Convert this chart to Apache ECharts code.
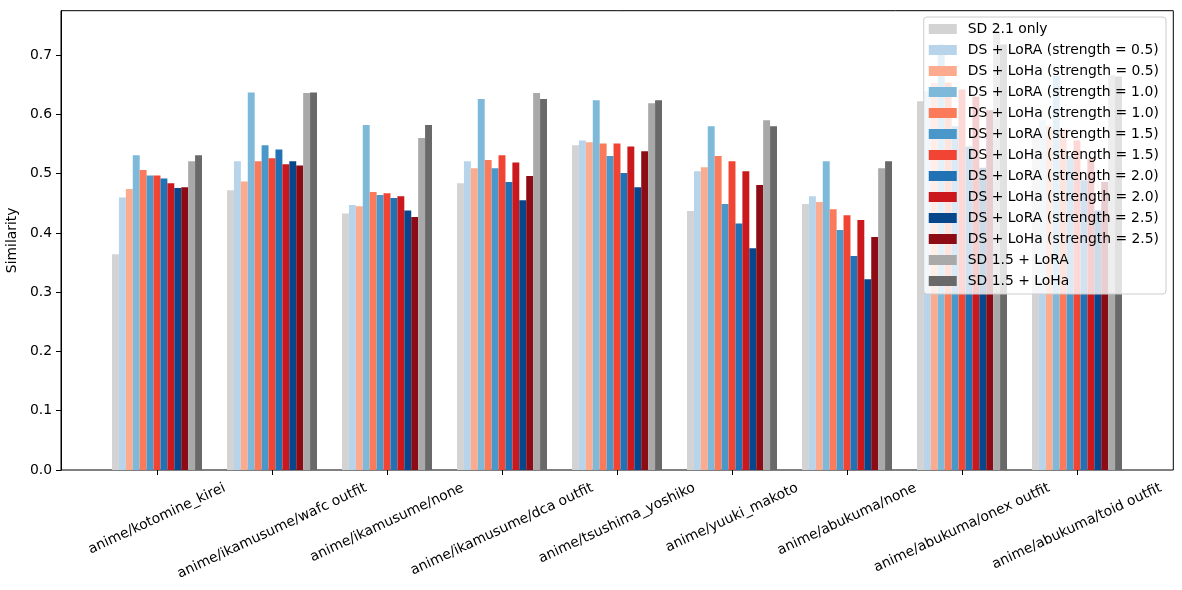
<!DOCTYPE html>
<html>
<head>
<meta charset="utf-8">
<script src="https://cdn.jsdelivr.net/npm/echarts@6/dist/echarts.min.js"></script>
<style>
html,body{margin:0;padding:0;background:#fff;}
#chart{width:1182px;height:590px;}
</style>
</head>
<body>
<div id="chart"></div>
<script>
// ---- data ----
const categories = [
  'anime/kotomine_kirei',
  'anime/ikamusume/wafc outfit',
  'anime/ikamusume/none',
  'anime/ikamusume/dca outfit',
  'anime/tsushima_yoshiko',
  'anime/yuuki_makoto',
  'anime/abukuma/none',
  'anime/abukuma/onex outfit',
  'anime/abukuma/toid outfit'
];
const seriesNames = [
  'SD 2.1 only',
  'DS + LoRA (strength = 0.5)',
  'DS + LoHa (strength = 0.5)',
  'DS + LoRA (strength = 1.0)',
  'DS + LoHa (strength = 1.0)',
  'DS + LoRA (strength = 1.5)',
  'DS + LoHa (strength = 1.5)',
  'DS + LoRA (strength = 2.0)',
  'DS + LoHa (strength = 2.0)',
  'DS + LoRA (strength = 2.5)',
  'DS + LoHa (strength = 2.5)',
  'SD 1.5 + LoRA',
  'SD 1.5 + LoHa'
];
const sd21Only   = [0.364, 0.472, 0.433, 0.484, 0.548, 0.437, 0.449, 0.622, 0.570];
const loraS05    = [0.460, 0.521, 0.447, 0.521, 0.556, 0.504, 0.462, 0.639, 0.590];
const lohaS05    = [0.474, 0.487, 0.445, 0.509, 0.553, 0.511, 0.452, 0.653, 0.581];
const loraS10    = [0.531, 0.637, 0.582, 0.626, 0.624, 0.580, 0.521, 0.718, 0.665];
const lohaS10    = [0.506, 0.521, 0.469, 0.523, 0.551, 0.530, 0.440, 0.654, 0.575];
const loraS15    = [0.497, 0.548, 0.464, 0.509, 0.530, 0.449, 0.405, 0.580, 0.530];
const lohaS15    = [0.497, 0.526, 0.467, 0.531, 0.551, 0.521, 0.430, 0.642, 0.556];
const loraS20    = [0.492, 0.541, 0.459, 0.486, 0.501, 0.416, 0.361, 0.546, 0.489];
const lohaS20    = [0.484, 0.516, 0.462, 0.519, 0.546, 0.504, 0.422, 0.630, 0.525];
const loraS25    = [0.476, 0.521, 0.438, 0.455, 0.477, 0.374, 0.322, 0.510, 0.438];
const lohaS25    = [0.477, 0.514, 0.427, 0.496, 0.538, 0.481, 0.393, 0.607, 0.486];
const sd15Lora   = [0.521, 0.636, 0.560, 0.636, 0.619, 0.590, 0.509, 0.738, 0.666];
const sd15Loha   = [0.531, 0.637, 0.582, 0.626, 0.624, 0.580, 0.521, 0.718, 0.664];
const seriesValues = [sd21Only, loraS05, lohaS05, loraS10, lohaS10, loraS15, lohaS15,
                      loraS20, lohaS20, loraS25, lohaS25, sd15Lora, sd15Loha];
const yTicks = [0, 0.1, 0.2, 0.3, 0.4, 0.5, 0.6, 0.7];
const yLabelText = 'Similarity';

// ---- styles ----
const colors = ['#d3d3d3', '#b7d4ea', '#fcab8e', '#7fb9da', '#fb7a5a', '#4a98c9', '#f14432',
                '#2171b5', '#cb181d', '#08468b', '#8c0b14', '#a9a9a9', '#696969'];
const FONT = '"DejaVu Sans", sans-serif';
const FS = 13.9;
const LH = 16;
const Y_MAX = 0.775;

// label placement emulating matplotlib (rotated bbox top-aligned, centred on tick)
const ctx = document.createElement('canvas').getContext('2d');
ctx.font = FS + 'px "DejaVu Sans"';
const ROT = 25 * Math.PI / 180, S = Math.sin(ROT), C = Math.cos(ROT);
const LABEL_MARGIN = 10;
const xData = categories.map(c => {
  const w = ctx.measureText(c).width;
  const H = w * S + LH * C;
  const D = H / 2;
  const padTop = Math.max(0, D * C - LH / 2);
  const padRight = 2 * D * S;
  return { value: c, textStyle: {
    align: 'center', verticalAlign: 'top', color: '#000', fontSize: FS, fontFamily: FONT,
    lineHeight: LH, padding: [padTop, padRight, 0, 0] } };
});

const chart = echarts.init(document.getElementById('chart'), null, { renderer: 'canvas' });

const series = seriesNames.map((name, i) => ({
  name: name,
  type: 'bar',
  xAxisIndex: 0,
  yAxisIndex: 0,
  data: seriesValues[i],
  itemStyle: { color: colors[i] },
  barGap: '0%',
  barCategoryGap: '21.74%',
  emphasis: { disabled: true }
}));

chart.setOption({
  animation: false,
  textStyle: { fontFamily: FONT },
  grid: [
    { left: 99.5, width: 1035, top: 10.7, height: 459.3, containLabel: false, outerBoundsMode: 'none' },
    { left: 61, width: 1112.3, top: 10.7, height: 459.3, show: true, outerBoundsMode: 'none',
      borderColor: '#000', borderWidth: 1, backgroundColor: 'transparent', containLabel: false }
  ],
  xAxis: [
    { type: 'category', gridIndex: 0, data: xData,
      axisLine: { show: false },
      axisTick: { show: true, alignWithLabel: true, length: 5, lineStyle: { color: '#000', width: 1 } },
      axisLabel: { interval: 0, rotate: 25, align: 'center', verticalAlign: 'top',
                   margin: LABEL_MARGIN, color: '#000', fontSize: FS, fontFamily: FONT, hideOverlap: false },
      splitLine: { show: false } },
    { type: 'value', gridIndex: 1, show: false, min: 0, max: 1 }
  ],
  yAxis: [
    { type: 'value', gridIndex: 0, show: false, min: 0, max: Y_MAX },
    { type: 'value', gridIndex: 1, min: 0, max: Y_MAX,
      axisLine: { show: true, lineStyle: { color: '#000', width: 1 } },
      axisTick: { show: true, length: 5, customValues: yTicks, lineStyle: { color: '#000', width: 1 } },
      axisLabel: { customValues: yTicks, color: '#000', fontSize: FS, fontFamily: FONT, margin: 9,
                   formatter: v => v.toFixed(1) },
      splitLine: { show: false },
      name: yLabelText, nameLocation: 'middle', nameRotate: 90, nameGap: 34,
      nameTextStyle: { color: '#000', fontSize: FS, fontFamily: FONT } }
  ],
  legend: {
    data: seriesNames,
    orient: 'vertical',
    right: 16, top: 17,
    icon: 'rect',
    itemWidth: 28, itemHeight: 10, itemGap: 5,
    padding: [4, 7, 5, 5],
    backgroundColor: 'rgba(255,255,255,0.8)',
    borderColor: '#cccccc', borderWidth: 1, borderRadius: 3,
    selectedMode: false,
    textStyle: { color: '#000', fontSize: FS, fontFamily: FONT, lineHeight: 16, padding: [0, 0, 0, 6] }
  },
  series: series
});
</script>
</body>
</html>
